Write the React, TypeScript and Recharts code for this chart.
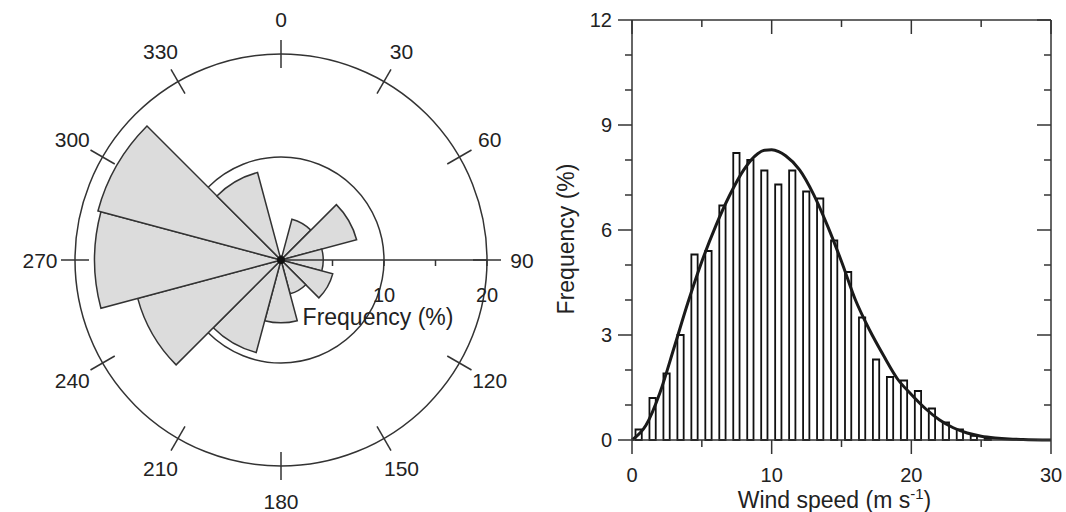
import React from 'react';
import {
  RadialBarChart,
  RadialBar,
  PolarAngleAxis,
  PolarRadiusAxis,
  PolarGrid,
  ComposedChart,
  Bar,
  Line,
  XAxis,
  YAxis,
} from 'recharts';

// Wind rose: direction (deg) and frequency (%)
const directions = ['0', '30', '60', '90', '120', '150', '180', '210', '240', '270', '300', '330'];
const directionFreq = [0.4, 4.1, 7.6, 4.1, 5.2, 3.4, 6.1, 9.3, 14.4, 18.1, 18.4, 8.8];
const roseTicks = [0, 5, 10, 15, 20];

// Wind speed histogram, 1 m/s bins (bin start, frequency %)
const binStart = [0, 1, 2, 3, 4, 5, 6, 7, 8, 9, 10, 11, 12, 13, 14, 15, 16, 17, 18, 19, 20, 21, 22, 23, 24, 25];
const binFreq = [0.3, 1.2, 1.9, 3.0, 5.3, 5.4, 6.7, 8.2, 8.0, 7.7, 7.3, 7.7, 7.1, 6.9, 5.7, 4.8, 3.5, 2.3, 1.8, 1.7, 1.4, 0.9, 0.5, 0.3, 0.12, 0.05];

// Fitted distribution
const fitSpeed = [0, 1, 2, 3, 4, 5, 6, 7, 8, 9, 9.5, 10, 10.5, 11, 12, 13, 14, 15, 16, 17, 18, 19, 20, 21, 22, 23, 24, 25, 26, 27, 28, 30];
const fitFreq = [0, 0.42, 1.35, 2.62, 3.92, 5.1, 6.12, 7.0, 7.72, 8.18, 8.28, 8.29, 8.24, 8.12, 7.72, 7.02, 6.12, 5.1, 4.0, 3.15, 2.42, 1.75, 1.3, 0.9, 0.58, 0.35, 0.2, 0.11, 0.06, 0.03, 0.015, 0];

const xTicks = [0, 5, 10, 15, 20, 25, 30];
const yTicks = [0, 1, 2, 3, 4, 5, 6, 7, 8, 9, 10, 11, 12];

const roseData = directions.map((d, i) => ({ dir: d, freq: directionFreq[i] }));

const histData = (() => {
  const rows = new Map<number, any>();
  binStart.forEach((b, i) => rows.set(b + 0.5, { x: b + 0.5, freq: binFreq[i] }));
  fitSpeed.forEach((s, i) => rows.set(s, { ...(rows.get(s) || { x: s }), fit: fitFreq[i] }));
  return Array.from(rows.values()).sort((a, b) => a.x - b.x);
})();

const FONT = '"Liberation Sans", Arial, sans-serif';
const INK = '#222';
const LINE = '#333';

// rose geometry
const CX = 281;
const CY = 260;
const R = 206;

// compass ticks cross the outer ring, label sits outside it
const CompassTick = (props: any) => {
  const { payload } = props;
  const a = ((90 - Number(payload.value)) * Math.PI) / 180;
  const ux = Math.cos(a);
  const uy = -Math.sin(a);
  return (
    <g>
      <line
        x1={CX + ux * (R - 14)}
        y1={CY + uy * (R - 14)}
        x2={CX + ux * (R + 14)}
        y2={CY + uy * (R + 14)}
        stroke={LINE}
        strokeWidth={1.5}
      />
      <text
        x={CX + ux * 241}
        y={CY + uy * 241}
        dy="0.36em"
        textAnchor="middle"
        fontSize={21}
        fontFamily={FONT}
        fill={INK}
      >
        {payload.value}
      </text>
    </g>
  );
};

const RadiusTick = (props: any) => {
  const { x, y, payload } = props;
  const v = payload.value;
  if (v === 0) return <circle cx={x} cy={y} r={4} fill="#111" />;
  return (
    <g>
      <line x1={x} y1={y} x2={x} y2={y + 6} stroke={LINE} strokeWidth={1.5} />
      {v % 10 === 0 && (
        <text x={x} y={y + 42} textAnchor="middle" fontSize={20} fontFamily={FONT} fill={INK}>
          {v}
        </text>
      )}
      {v === 10 && (
        <text x={x - 6} y={y + 65} textAnchor="middle" fontSize={23} fontFamily={FONT} fill={INK}>
          Frequency (%)
        </text>
      )}
    </g>
  );
};

const BottomTick = (props: any) => {
  const { x, y, payload } = props;
  const major = payload.value % 10 === 0;
  return (
    <g>
      <line x1={x} y1={y} x2={x} y2={y + (major ? 14 : 7)} stroke={LINE} strokeWidth={1.5} />
      {major && (
        <text x={x} y={y + 42} textAnchor="middle" fontSize={20} fontFamily={FONT} fill={INK}>
          {payload.value}
        </text>
      )}
    </g>
  );
};

const TopTick = (props: any) => {
  const { x, y, payload } = props;
  const major = payload.value % 10 === 0;
  return <line x1={x} y1={y} x2={x} y2={y + (major ? 14 : 7)} stroke={LINE} strokeWidth={1.5} />;
};

const LeftTick = (props: any) => {
  const { x, y, payload } = props;
  const major = payload.value % 3 === 0;
  return (
    <g>
      <line x1={x} y1={y} x2={x - (major ? 14 : 7)} y2={y} stroke={LINE} strokeWidth={1.5} />
      {major && (
        <text x={x - 20} y={y} dy="0.36em" textAnchor="end" fontSize={20} fontFamily={FONT} fill={INK}>
          {payload.value}
        </text>
      )}
    </g>
  );
};

const RightTick = (props: any) => {
  const { x, y, payload } = props;
  const major = payload.value % 3 === 0;
  return <line x1={x} y1={y} x2={x - (major ? 14 : 7)} y2={y} stroke={LINE} strokeWidth={1.5} />;
};

const WindRose = () => (
  <RadialBarChart
    width={540}
    height={512}
    data={roseData}
    cx={CX}
    cy={CY}
    innerRadius={0}
    outerRadius={R}
    startAngle={75}
    endAngle={-285}
    layout="centric"
    barCategoryGap={0}
    barGap={0}
    margin={{ top: 0, right: 0, bottom: 0, left: 0 }}
  >
    <PolarGrid gridType="circle" radialLines={false} polarRadius={[R / 2, R]} stroke={LINE} strokeWidth={1.5} />
    <PolarAngleAxis
      type="category"
      dataKey="dir"
      axisLine={false}
      tickLine={false}
      tick={<CompassTick />}
    />
    <RadialBar
      dataKey="freq"
      fill="#dcdcdc"
      stroke={LINE}
      strokeWidth={1.5}
      isAnimationActive={false}
    />
    <PolarRadiusAxis
      type="number"
      angle={0}
      domain={[0, 20]}
      ticks={roseTicks}
      axisLine={{ stroke: LINE, strokeWidth: 1.5 }}
      tick={<RadiusTick />}
    />
  </RadialBarChart>
);

const SpeedHistogram = () => (
  <ComposedChart
    width={526}
    height={512}
    data={histData}
    margin={{ top: 19, right: 14, bottom: 12, left: 0 }}
  >
    <XAxis
      dataKey="x"
      type="number"
      domain={[0, 30]}
      ticks={xTicks}
      height={60}
      tickSize={0}
      tickMargin={0}
      tickLine={false}
      axisLine={{ stroke: LINE, strokeWidth: 1.5 }}
      tick={<BottomTick />}
      label={{
        content: ({ viewBox }: any) => (
          <text
            x={viewBox.x + viewBox.width / 2 - 7}
            y={viewBox.y + 68}
            textAnchor="middle"
            fontSize={23}
            fontFamily={FONT}
            fill={INK}
          >
            Wind speed (m s
            <tspan fontSize={15} dy={-9}>-1</tspan>
            <tspan dy={9}>)</tspan>
          </text>
        ),
      }}
    />
    <XAxis
      xAxisId="top"
      dataKey="x"
      orientation="top"
      type="number"
      domain={[0, 30]}
      ticks={xTicks}
      height={1}
      tickSize={0}
      tickMargin={0}
      tickLine={false}
      axisLine={{ stroke: LINE, strokeWidth: 1.5 }}
      tick={<TopTick />}
    />
    <YAxis
      type="number"
      domain={[0, 12]}
      ticks={yTicks}
      width={92}
      tickSize={0}
      tickMargin={0}
      tickLine={false}
      axisLine={{ stroke: LINE, strokeWidth: 1.5 }}
      tick={<LeftTick />}
      label={{
        content: ({ viewBox }: any) => (
          <text
            transform={`translate(${viewBox.x + 34}, ${viewBox.y + viewBox.height / 2 + 9}) rotate(-90)`}
            textAnchor="middle"
            fontSize={23}
            fontFamily={FONT}
            fill={INK}
          >
            Frequency (%)
          </text>
        ),
      }}
    />
    <YAxis
      yAxisId="right"
      orientation="right"
      type="number"
      domain={[0, 12]}
      ticks={yTicks}
      width={1}
      tickSize={0}
      tickMargin={0}
      tickLine={false}
      axisLine={{ stroke: LINE, strokeWidth: 1.5 }}
      tick={<RightTick />}
    />
    <Bar dataKey="freq" barSize={14} fill="#fff" stroke="#111" strokeWidth={1.8} isAnimationActive={false} />
    <Line
      xAxisId="top"
      yAxisId="right"
      dataKey="fit"
      type="monotone"
      stroke="#1a1a1a"
      strokeWidth={3}
      dot={false}
      connectNulls
      isAnimationActive={false}
    />
  </ComposedChart>
);

export default function App() {
  return (
    <div
      style={{
        position: 'absolute',
        left: 0,
        top: 0,
        width: 1066,
        height: 512,
        display: 'flex',
        background: '#fff',
        fontFamily: FONT,
      }}
    >
      <WindRose />
      <SpeedHistogram />
    </div>
  );
}
